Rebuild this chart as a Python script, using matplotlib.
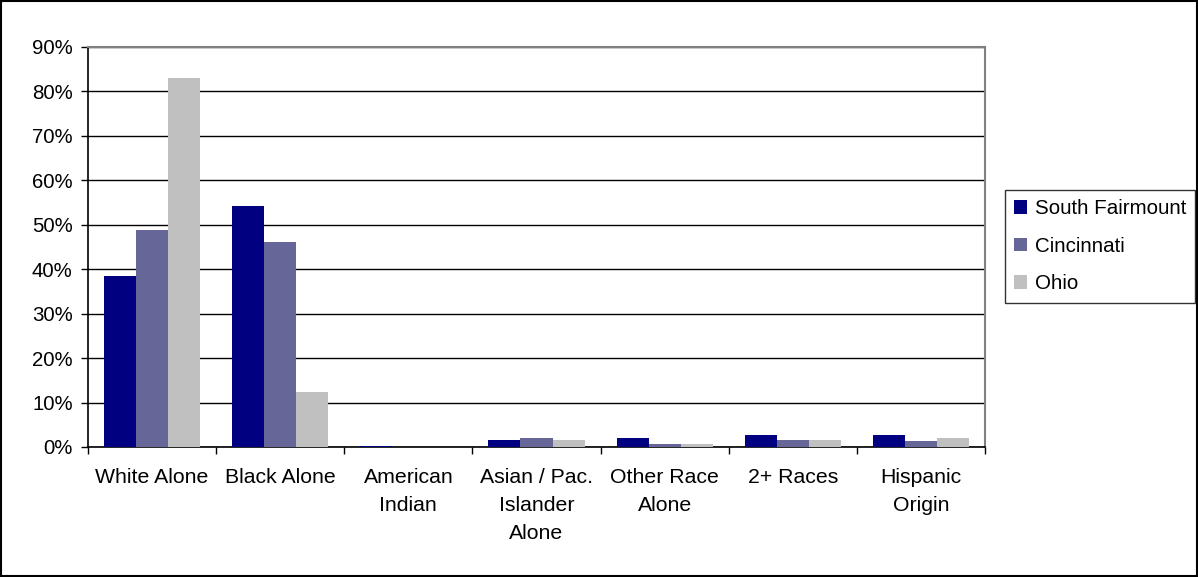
import matplotlib.pyplot as plt
import numpy as np
from matplotlib.patches import Rectangle

plt.rcParams['font.family'] = ['Liberation Sans', 'DejaVu Sans']

categorias = ["White Alone", "Black Alone", "American\nIndian", "Asian / Pac.\nIslander\nAlone",
              "Other Race\nAlone", "2+ Races", "Hispanic\nOrigin"]
series = ["South Fairmount", "Cincinnati", "Ohio"]
south_fairmount = [38.5, 54.2, 0.3, 1.6, 2.0, 2.7, 2.7]
cincinnati = [48.8, 46.1, 0.0, 2.0, 0.7, 1.6, 1.4]
ohio = [83.1, 12.3, 0.0, 1.6, 0.7, 1.6, 2.0]
colores = ["#000080", "#666699", "#C0C0C0"]
ticks_y = [0, 10, 20, 30, 40, 50, 60, 70, 80, 90]

fig = plt.figure(figsize=(11.98, 5.77), dpi=100)
ax = fig.add_axes([88/1198, 130/577, 897/1198, 400/577])

x = np.arange(len(categorias))
ancho = 0.25
for i, (nombre, valores) in enumerate(zip(series, [south_fairmount, cincinnati, ohio])):
    ax.bar(x + (i - 1) * ancho, valores, ancho, color=colores[i], label=nombre, zorder=3)

ax.set_xlim(-0.5, len(categorias) - 0.5)
ax.set_ylim(0, 90)
ax.set_yticks(ticks_y)
ax.set_yticklabels([f"{t}%" for t in ticks_y], fontsize=14.7)
ax.yaxis.grid(True, color="black", linewidth=1, zorder=0)
ax.set_xticks(x)
ax.set_xticklabels(categorias, fontsize=15.3, linespacing=1.6)
ax.set_xticks(np.arange(len(categorias) + 1) - 0.5, minor=True)
ax.tick_params(axis="x", which="major", length=0, pad=15)
ax.tick_params(axis="x", which="minor", length=5, width=1, color="black")
ax.tick_params(axis="y", length=5, width=1, color="black", pad=6)

for lado in ["top", "right"]:
    ax.spines[lado].set_color("#808080")
    ax.spines[lado].set_linewidth(1.5)
ax.spines["left"].set_color("black")
ax.spines["bottom"].set_color("black")
ax.spines["left"].set_linewidth(1.2)
ax.spines["bottom"].set_linewidth(1.2)

leg = ax.legend(loc="upper left", bbox_to_anchor=(1005/1198, 1 - 190/577), bbox_transform=fig.transFigure,
                fontsize=14.8, frameon=True, fancybox=False, edgecolor="black",
                handlelength=0.6, handleheight=0.6, handletextpad=0.4, labelspacing=0.9,
                borderpad=0.45, borderaxespad=0)
leg.get_frame().set_linewidth(1)

fig.patches.append(Rectangle((0.001, 0.002), 0.998, 0.996, transform=fig.transFigure,
                             fill=False, edgecolor="black", linewidth=1.5))

fig.savefig("out.png", dpi=100)
